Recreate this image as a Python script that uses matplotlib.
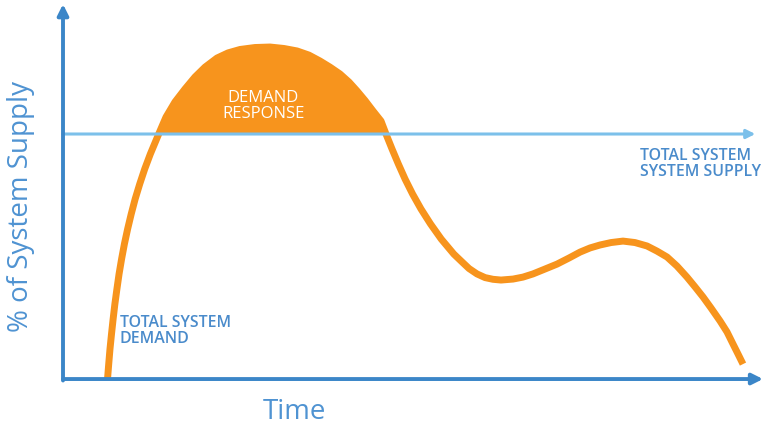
import matplotlib.pyplot as plt
import numpy as np

# demand curve: time (0-100) vs % of system supply (supply = 100)
time = np.array([6.36, 6.53, 6.71, 6.93, 7.16, 7.41, 7.70, 8.01, 8.37, 8.77, 9.23, 9.74,
                 10.31, 10.96, 11.67, 12.47, 13.67, 14.71, 16.0, 17.43, 18.86, 20.29,
                 22.0, 23.57, 25.29, 27.43, 29.57, 31.57, 33.43, 35.14, 36.71, 38.14,
                 39.57, 40.86, 42.0, 43.14, 44.29, 45.43, 46.14, 47.0, 47.9, 48.87,
                 49.94, 51.14, 52.5, 54.04, 55.83, 57.0, 58.0, 59.14, 60.29, 61.43,
                 62.57, 64.29, 65.71, 67.14, 68.86, 70.57, 72.29, 73.86, 75.29, 76.71,
                 78.29, 80.0, 81.71, 83.43, 84.86, 86.29, 87.71, 89.14, 90.29, 91.43,
                 92.57, 93.86, 94.86, 95.71, 96.43, 97.14])
demand = np.array([0, 6.1, 12.2, 18.4, 24.5, 30.6, 36.7, 42.9, 49.0, 55.1, 61.2, 67.3,
                   73.5, 79.6, 85.7, 91.8, 100, 106.9, 113.1, 118.4, 123.3, 127.3,
                   131.0, 133.1, 134.5, 135.3, 135.5, 134.9, 133.9, 132.2, 129.8, 127.3,
                   124.5, 121.2, 117.6, 113.7, 109.4, 105.3, 100, 93.9, 87.8, 81.6,
                   75.5, 69.4, 63.3, 57.1, 51.0, 47.8, 45.1, 42.9, 41.4, 40.7,
                   40.4, 40.8, 41.6, 42.9, 44.9, 46.9, 49.4, 51.8, 53.5, 54.7,
                   55.7, 56.3, 55.7, 54.3, 52.2, 49.8, 46.1, 41.6, 37.6, 33.5,
                   29.0, 23.7, 19.2, 14.3, 10.2, 6.1])
supply = 100

orange = '#F7941D'
axis_blue = '#3B86C8'
line_blue = '#7CC0EA'
text_blue = '#4A8BCB'

plt.rcParams['font.family'] = ['Open Sans', 'DejaVu Sans']

fig = plt.figure(figsize=(7.64, 4.31), dpi=100)
ax = fig.add_axes([0, 0, 1, 1])
ax.set_xlim(-9.0, 100.14)
ax.set_ylim(-20.8, 155.1)
ax.axis('off')

# demand response area above supply
ax.fill_between(time, demand, supply, where=demand >= supply, interpolate=True,
                color=orange, lw=0, zorder=2)
ax.plot(time, demand, color=orange, lw=5, solid_capstyle='butt',
        solid_joinstyle='round', zorder=3)

# supply line
ax.annotate('', xy=(98.9, supply), xytext=(0, supply),
            arrowprops=dict(arrowstyle='-|>', color=line_blue, lw=2.2,
                            mutation_scale=13, shrinkA=0, shrinkB=0), zorder=4)

# axes
ax.annotate('', xy=(100, 0), xytext=(0, 0),
            arrowprops=dict(arrowstyle='-|>', color=axis_blue, lw=2.8,
                            mutation_scale=16, shrinkA=0, shrinkB=0), zorder=5)
ax.annotate('', xy=(0, 153), xytext=(0, -0.6),
            arrowprops=dict(arrowstyle='-|>', color=axis_blue, lw=2.8,
                            mutation_scale=16, shrinkA=0, shrinkB=0), zorder=5)

ax.text(-6.0, 71, '% of System Supply', rotation=90, ha='center', va='center',
        fontsize=20, color='#4F93D2')
ax.text(33, -13, 'Time', ha='center', va='center', fontsize=20, color='#4F93D2')

ax.text(28.6, 112, 'DEMAND\nRESPONSE', ha='center', va='center', fontsize=12,
        color='white', linespacing=1.0, zorder=6)
ax.text(8.1, 20, 'TOTAL SYSTEM\nDEMAND', ha='left', va='center', fontsize=11.4,
        color=text_blue, fontweight='semibold', linespacing=0.95)
ax.text(82.4, 88.2, 'TOTAL SYSTEM\nSYSTEM SUPPLY', ha='left', va='center', fontsize=11.4,
        color=text_blue, fontweight='semibold', linespacing=0.95)

plt.savefig('out.png', dpi=100)
